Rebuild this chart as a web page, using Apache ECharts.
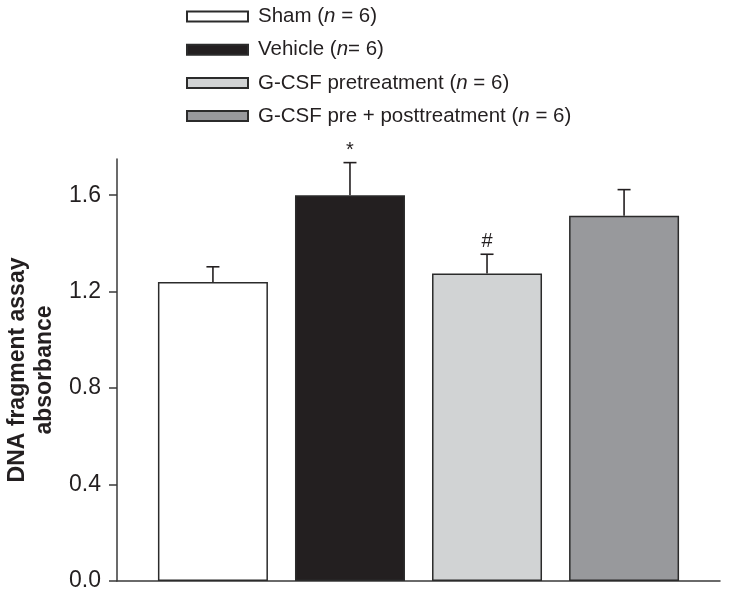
<!DOCTYPE html>
<html>
<head>
<meta charset="utf-8">
<script src="https://cdn.jsdelivr.net/npm/echarts@6/dist/echarts.min.js"></script>
<style>
  html, body { margin: 0; padding: 0; background: #fff; }
  #chart { width: 729px; height: 598px; }
</style>
</head>
<body>
<div id="chart"></div>
<script>
// ---- data ----
const groups = ['Sham', 'Vehicle', 'G-CSF pretreatment', 'G-CSF pre + posttreatment'];
const nLabels = ['Sham (', 'Vehicle (', 'G-CSF pretreatment (', 'G-CSF pre + posttreatment ('];
const nSuffix = [' = 6)', '= 6)', ' = 6)', ' = 6)'];
const means = [1.24, 1.60, 1.275, 1.515];
const errors = [0.063, 0.135, 0.08, 0.108];
const marks = ['', '*', '#', ''];
const yTicks = [0, 0.4, 0.8, 1.2, 1.6];
const colors = ['#ffffff', '#231f20', '#d1d3d4', '#98999c'];

const ink = '#231f20';
const font = '"Liberation Sans", Arial, Helvetica, sans-serif';

const barSeries = groups.map((g, i) => ({
  name: g,
  type: 'bar',
  stack: 'one',
  barWidth: 110,
  data: groups.map((_, j) => [j, j === i ? means[i] : '-']),
  itemStyle: { color: colors[i], borderColor: '#2b2b2b', borderWidth: 1.5 },
  emphasis: { disabled: true },
  animation: false
}));

const errSeries = {
  type: 'custom',
  animation: false,
  clip: false,
  silent: true,
  data: means.map((m, i) => [i, m, errors[i]]),
  renderItem: function (params, api) {
    const x = api.value(0), m = api.value(1), e = api.value(2);
    const mark = marks[params.dataIndex];
    const p0 = api.coord([x, m]);
    const p1 = api.coord([x, m + e]);
    const cap = 6.5;
    const children = [
      { type: 'line', shape: { x1: p0[0], y1: p0[1], x2: p1[0], y2: p1[1] }, style: { stroke: ink, lineWidth: 1.6 } },
      { type: 'line', shape: { x1: p1[0] - cap, y1: p1[1], x2: p1[0] + cap, y2: p1[1] }, style: { stroke: ink, lineWidth: 1.6 } }
    ];
    if (mark) {
      children.push({
        type: 'text',
        style: {
          text: mark, x: p1[0], y: p1[1] - (mark === '*' ? 2 : 3),
          align: 'center', verticalAlign: 'bottom',
          fill: ink, font: '20px ' + font
        }
      });
    }
    return { type: 'group', children: children };
  }
};

const chart = echarts.init(document.getElementById('chart'), null, { renderer: 'canvas' });
chart.setOption({
  backgroundColor: '#ffffff',
  animation: false,
  textStyle: { fontFamily: font, color: ink },
  legend: {
    orient: 'vertical',
    left: 186,
    top: 6,
    padding: 0,
    icon: 'rect',
    itemWidth: 61,
    itemHeight: 10,
    itemGap: 12.2,
    selectedMode: false,
    data: groups,
    formatter: function (name) {
      const i = groups.indexOf(name);
      return '{s| }{a|' + nLabels[i] + '}{i|n}{a|' + nSuffix[i] + '}';
    },
    textStyle: {
      rich: {
        s: { width: 5, fontSize: 20.5, lineHeight: 20 },
        a: { fontSize: 20.5, lineHeight: 20, color: ink, fontFamily: font },
        i: { fontSize: 20.5, lineHeight: 20, color: ink, fontFamily: font, fontStyle: 'italic' }
      }
    }
  },
  grid: { left: 117, right: 9, top: 159, bottom: 17, containLabel: false, outerBoundsMode: 'none' },
  xAxis: {
    type: 'value',
    min: -0.7,
    max: 3.7,
    axisLine: { show: true, onZero: false, lineStyle: { color: '#3a3a3a', width: 1.5 } },
    axisTick: { show: false },
    axisLabel: { show: false },
    splitLine: { show: false }
  },
  yAxis: {
    type: 'value',
    min: 0,
    max: 1.75,
    interval: 0.4,
    name: 'DNA fragment assay\nabsorbance',
    nameLocation: 'middle',
    nameGap: 56,
    nameRotate: 90,
    nameTextStyle: { fontSize: 23, fontWeight: 'bold', lineHeight: 27, color: ink, fontFamily: font },
    axisLine: { show: true, onZero: false, lineStyle: { color: '#3a3a3a', width: 1.5 } },
    axisTick: { show: true, length: 8, customValues: yTicks, lineStyle: { color: '#3a3a3a', width: 1.5 } },
    axisLabel: {
      customValues: yTicks,
      margin: 16,
      fontSize: 23,
      color: ink,
      fontFamily: font,
      formatter: v => v.toFixed(1)
    },
    splitLine: { show: false }
  },
  series: barSeries.concat([errSeries])
});
</script>
</body>
</html>
